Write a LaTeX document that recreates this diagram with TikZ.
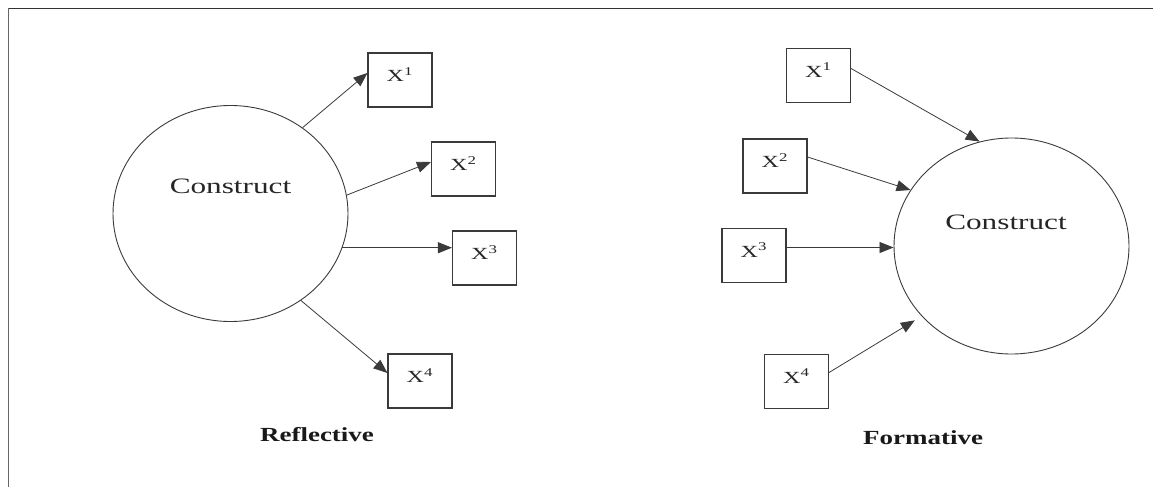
\documentclass[tikz,border=0pt]{standalone}
\usepackage{fontspec}
\setmainfont{Liberation Serif}
\usepackage{graphicx}
\usetikzlibrary{shapes.geometric,arrows.meta,calc}
\definecolor{ink}{HTML}{3A3A3A}
\tikzset{
  construct/.style={draw=ink,line width=0.9pt,ellipse,minimum width=235pt,minimum height=216pt,inner sep=0pt},
  xbox/.style={draw=ink,line width=1.1pt,minimum width=64pt,minimum height=54pt,inner sep=0pt},
  xtxt/.style={inner sep=0pt,font=\fontsize{17}{17}\selectfont,text=black!85},
  ctxt/.style={inner sep=0pt,font=\fontsize{22}{22}\selectfont,text=black!85},
  lbl/.style={inner sep=0pt,font=\fontsize{20}{20}\selectfont\bfseries,text=black!90},
  arr/.style={draw=ink,line width=0.8pt,-{Triangle[length=14pt,width=11pt]}},
}
\newcommand{\sx}[1]{\scalebox{1.42}[1]{#1}}
\begin{document}
\begin{tikzpicture}[x=1pt,y=-1pt]
\useasboundingbox (0,0) rectangle (1153,487);
\draw[line width=1.5pt,black!80] (8.5,8.3) -- (1153,8.3);
\draw[line width=1.6pt,black!60] (8.5,8.3) -- (8.5,487);
% Reflective
\node[construct] (c1) at (230.5,213.5) {};
\node[ctxt] (t1) at (230.5,186.5) {\sx{Construct}};
\node[xbox] (l1) at (400,80) {};
\node[xbox] (l2) at (463.5,169) {};
\node[xbox] (l3) at (484.5,258) {};
\node[xbox] (l4) at (420,381) {};
\node[xtxt] (lt1) at ([yshift=-22pt]l1.north) {\sx{X\textsuperscript{1}}};
\node[xtxt] (lt2) at ([yshift=-22pt]l2.north) {\sx{X\textsuperscript{2}}};
\node[xtxt] (lt3) at ([yshift=-22pt]l3.north) {\sx{X\textsuperscript{3}}};
\node[xtxt] (lt4) at ([yshift=-22pt]l4.north) {\sx{X\textsuperscript{4}}};
\draw[arr] (c1.50) -- ([yshift=7pt]l1.west);
\draw[arr] (c1.9) -- ([yshift=7pt]l2.west);
\draw[arr] (c1.-17) -- (c1.-17 -| l3.west);
\draw[arr] (c1.-51) -- ([yshift=8pt]l4.west);
\node[lbl] (r) at (317,435) {\scalebox{1.35}[1]{Reflective}};
% Formative
\node[construct] (c2) at (1011.5,246) {};
\node[ctxt] (t2) at (1006,222) {\sx{Construct}};
\node[xbox] (f1) at (818.5,75.5) {};
\node[xbox] (f2) at (775,166) {};
\node[xbox] (f3) at (754,255.5) {};
\node[xbox] (f4) at (796.5,381.5) {};
\node[xtxt] (ft1) at ([yshift=-22pt]f1.north) {\sx{X\textsuperscript{1}}};
\node[xtxt] (ft2) at ([yshift=-22pt]f2.north) {\sx{X\textsuperscript{2}}};
\node[xtxt] (ft3) at ([yshift=-22pt]f3.north) {\sx{X\textsuperscript{3}}};
\node[xtxt] (ft4) at ([yshift=-22pt]f4.north) {\sx{X\textsuperscript{4}}};
\draw[arr] ([yshift=7pt]f1.east) -- (c2.107);
\draw[arr] ([yshift=9pt]f2.east) -- (c2.151);
\draw[arr] ([yshift=8pt]f3.east) -- ([yshift=8pt]f3.east -| c2.west);
\draw[arr,shorten >=8pt] ([yshift=9pt]f4.east) -- (c2.218);
\node[lbl] (f) at (923,438) {\scalebox{1.35}[1]{Formative}};
\end{tikzpicture}
\end{document}
